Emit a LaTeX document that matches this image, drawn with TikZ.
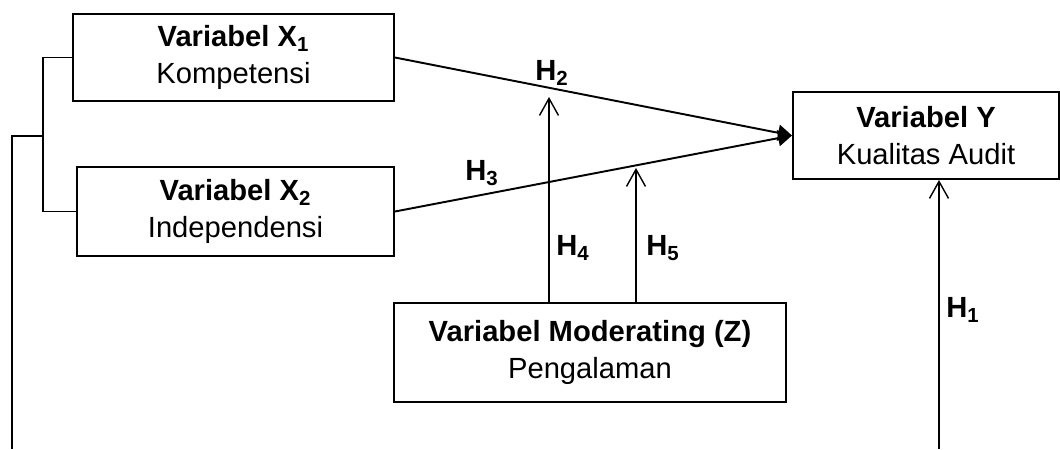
\documentclass[tikz,border=0pt]{standalone}
\usepackage{fontspec}
\setmainfont{Liberation Sans}
\usetikzlibrary{arrows.meta}

\begin{document}
\begin{tikzpicture}[x=0.2mm, y=-0.2mm, >={Straight Barb[length=3.4mm,width=3.8mm]},
  var/.style={draw, line width=1.1pt, align=center, inner sep=0pt,
    font=\fontsize{16.6}{21}\selectfont},
  main/.style={line width=1.1pt},
  mod/.style={line width=0.8pt},
  hyp/.style={font=\bfseries\fontsize{16.6}{20}\selectfont}]
\useasboundingbox (0,0) rectangle (1060,449);

% Variable boxes
\node [var, minimum width=64.2mm, minimum height=17.4mm] (x1) at (233.5,57.5)
  {\textbf{Variabel X\textsubscript{1}}\\Kompetensi};
\node [var, minimum width=63.4mm, minimum height=17.8mm] (x2) at (235.5,211.5)
  {\textbf{Variabel X\textsubscript{2}}\\Independensi};
\node [var, minimum width=53.2mm, minimum height=17.4mm] (y) at (926,135.5)
  {\textbf{Variabel Y}\\Kualitas Audit};
\node [var, minimum width=78.4mm, minimum height=19.8mm] (z) at (590,352.5)
  {\textbf{Variabel Moderating (Z)}\\Pengalaman};

% Direct effects on Y
\foreach \v in {x1, x2} {
  \draw [main, -{Triangle[length=2.8mm,width=3.2mm]}] (\v.east) -- (y.west);
}

% Moderating arrows
\coordinate (t4) at (549,97);
\coordinate (t5) at (636,168);
\foreach \t in {t4, t5} {
  \draw [mod, ->] (z.north -| \t) -- (\t);
}

% Bracket on the left and joint line to Y
\coordinate (j) at (43,136);
\coordinate (b0) at (12,449);
\coordinate (b1) at (939,449);
\draw [mod] (x1.west) -| (j) |- (x2.west);
\draw [mod] (j) -| (b0);
\draw [mod, ->] (b1) -- (y.south -| b1);

% Hypothesis labels
\foreach \n/\px/\py in {1/963/310, 2/552/73, 3/482/173, 4/573/248, 5/663/248} {
  \node [hyp] (h\n) at (\px,\py) {H\textsubscript{\n}};
}

\end{tikzpicture}
\end{document}
